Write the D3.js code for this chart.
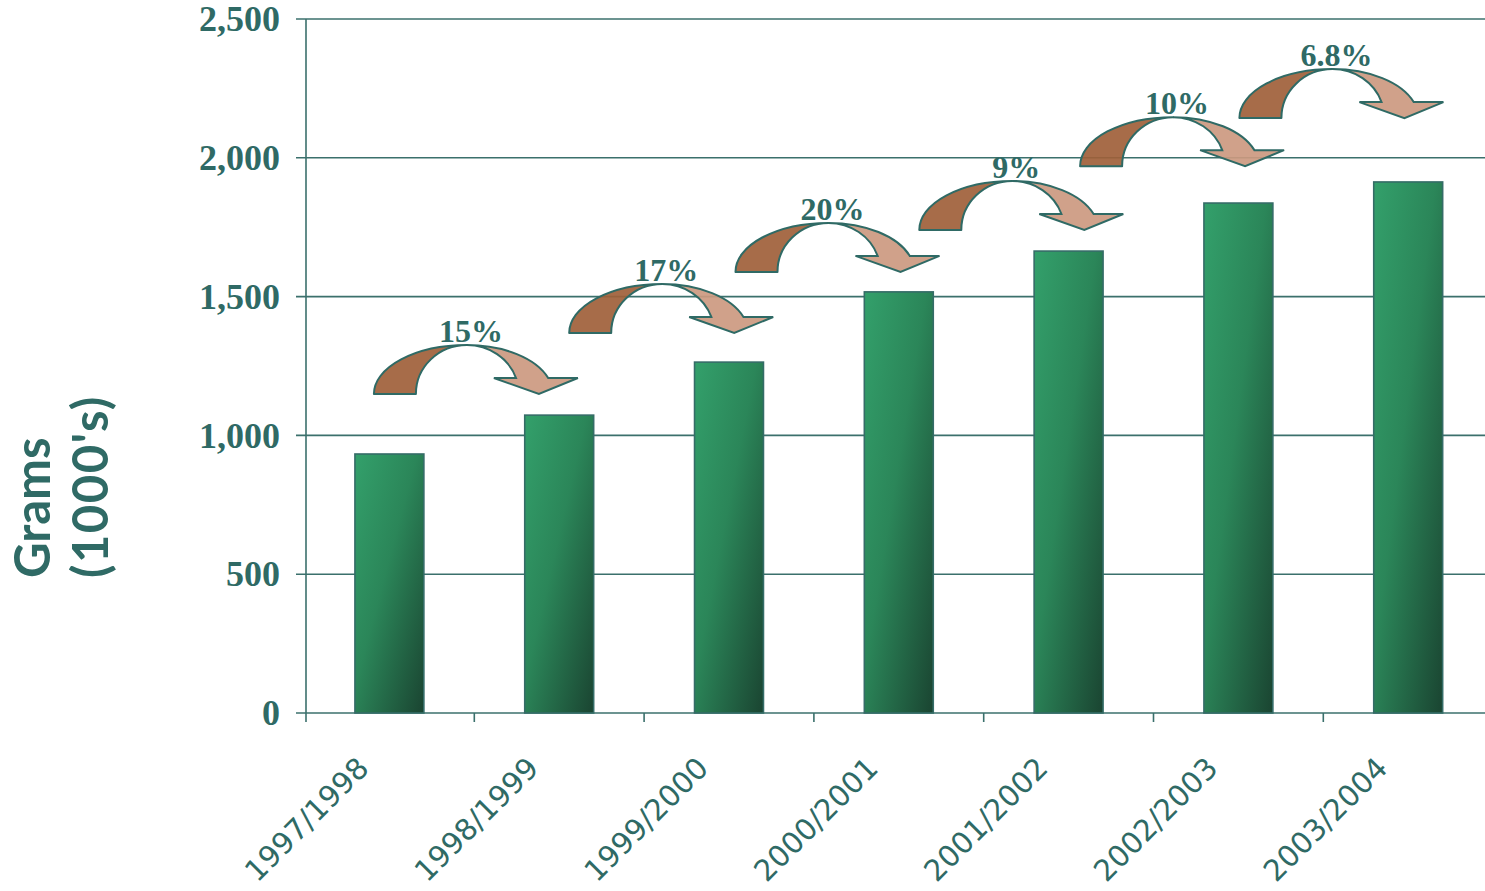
<!DOCTYPE html>
<html>
<head>
<meta charset="utf-8">
<script src="https://cdn.jsdelivr.net/npm/d3@7"></script>
<style>
  html, body { margin: 0; padding: 0; background: #ffffff; }
  svg { display: block; }
</style>
</head>
<body>
<svg id="chart" width="1485" height="891"></svg>
<script>
// Seasons and yearly totals (grams, thousands)
const seasons = ["1997/1998", "1998/1999", "1999/2000", "2000/2001", "2001/2002", "2002/2003", "2003/2004"];
const grams = [933, 1073, 1264, 1517, 1664, 1837, 1913];
const yTicks = [0, 500, 1000, 1500, 2000, 2500];

// Year-over-year growth callouts, one per pair of adjacent seasons
const growthLabels = ["15%", "17%", "20%", "9%", "10%", "6.8%"];
// Level (in grams) where each callout arrow rests
const arrowLevel = [1149, 1369, 1589, 1740, 1970, 2143];
// Horizontal nudge of each arrow from the centre of its starting bar
const arrowShift = [-15.5, 10, 6.5, 20.5, 11.5, 1];

const ink = "#2f6a65";
const lineCol = "#3b706c";
const serif = "'Liberation Serif', 'Times New Roman', serif";

const svg = d3.select("#chart");
const plot = { left: 306, top: 19, bottom: 713, right: 1485 };

const x = d3.scaleBand()
  .domain(seasons)
  .range([304.5, 304.5 + 7 * 169.8])
  .paddingInner(0.594)
  .paddingOuter(0.297);

const y = d3.scaleLinear()
  .domain([0, 2500])
  .range([plot.bottom, plot.top]);

const defs = svg.append("defs");
const barGrad = defs.append("linearGradient")
  .attr("id", "barGrad")
  .attr("x1", 0).attr("y1", 0).attr("x2", 1).attr("y2", 1);
barGrad.append("stop").attr("offset", "0%").attr("stop-color", "#33a06b");
barGrad.append("stop").attr("offset", "45%").attr("stop-color", "#2b8659");
barGrad.append("stop").attr("offset", "100%").attr("stop-color", "#1a4431");

// Horizontal gridlines with short ticks left of the axis
svg.append("g")
  .selectAll("line")
  .data(yTicks)
  .join("line")
  .attr("x1", plot.left - 10)
  .attr("x2", plot.right)
  .attr("y1", d => y(d))
  .attr("y2", d => y(d))
  .attr("stroke", lineCol)
  .attr("stroke-width", 1.6);

// Y axis line
svg.append("line")
  .attr("x1", plot.left).attr("x2", plot.left)
  .attr("y1", plot.top).attr("y2", plot.bottom + 9)
  .attr("stroke", lineCol)
  .attr("stroke-width", 1.6);

// Category separators below the baseline
svg.append("g")
  .selectAll("line")
  .data(seasons.slice(1))
  .join("line")
  .attr("x1", d => x(d) - x.step() * x.paddingInner() / 2)
  .attr("x2", d => x(d) - x.step() * x.paddingInner() / 2)
  .attr("y1", plot.bottom)
  .attr("y2", plot.bottom + 9)
  .attr("stroke", lineCol)
  .attr("stroke-width", 1.6);

// Y tick labels
svg.append("g")
  .selectAll("text")
  .data(yTicks)
  .join("text")
  .attr("x", 280)
  .attr("y", d => y(d))
  .attr("dy", "0.34em")
  .attr("text-anchor", "end")
  .attr("font-family", serif)
  .attr("font-weight", "bold")
  .attr("font-size", 36)
  .attr("fill", ink)
  .text(d => d3.format(",")(d));

// Bars
svg.append("g")
  .selectAll("rect")
  .data(grams)
  .join("rect")
  .attr("x", (d, i) => x(seasons[i]))
  .attr("y", d => y(d))
  .attr("width", x.bandwidth())
  .attr("height", d => y(0) - y(d))
  .attr("fill", "url(#barGrad)")
  .attr("stroke", "#356c67")
  .attr("stroke-width", 1.6);

// X category labels, rotated
svg.append("g")
  .selectAll("text")
  .data(seasons)
  .join("text")
  .attr("transform", d => `translate(${x(d) + x.bandwidth() / 2 - 19},${plot.bottom + 57}) rotate(-45)`)
  .attr("text-anchor", "end")
  .attr("font-family", "'DejaVu Sans', Verdana, sans-serif")
  .attr("font-size", 29.5)
  .attr("fill", ink)
  .text(d => d);

// Curved growth arrows: a darker rising back and a lighter descending head
const AW = 204, AH = 49;          // arrow box
const topX = 93;                   // where the two halves meet
const backT = 42;                  // thickness of the rising leg at its foot
const headY = 33;                  // height of the arrowhead base (from top)
const frontOuterRx = 86, frontInnerRx = 52;
const k = Math.sqrt(1 - Math.pow((AH - headY) / AH, 2));
const fo = topX + frontOuterRx * k;
const fi = topX + frontInnerRx * k;

const backPath = `M0,${AH} A${topX},${AH} 0 0 1 ${topX},0 A${topX - backT},${AH} 0 0 0 ${backT},${AH} Z`;
const frontPath = `M${topX},0 A${frontOuterRx},${AH} 0 0 1 ${fo},${headY} L${AW},${headY} L165,${AH} L120,${headY} L${fi},${headY} A${frontInnerRx},${AH} 0 0 0 ${topX},0 Z`;

const arrows = svg.append("g")
  .selectAll("g")
  .data(growthLabels)
  .join("g")
  .attr("transform", (d, i) => {
    const bx = x(seasons[i]) + x.bandwidth() / 2 + arrowShift[i];
    const by = y(arrowLevel[i]) - AH;
    return `translate(${bx},${by})`;
  });

arrows.append("path")
  .attr("d", backPath)
  .attr("fill", "#a05f3a")
  .attr("fill-opacity", 0.92)
  .attr("stroke", ink)
  .attr("stroke-width", 2)
  .attr("stroke-linejoin", "round");

arrows.append("path")
  .attr("d", frontPath)
  .attr("fill", "#cc9980")
  .attr("fill-opacity", 0.92)
  .attr("stroke", ink)
  .attr("stroke-width", 2)
  .attr("stroke-linejoin", "miter");

arrows.append("text")
  .attr("x", 97)
  .attr("y", -3)
  .attr("text-anchor", "middle")
  .attr("font-family", serif)
  .attr("font-weight", "bold")
  .attr("font-size", 32)
  .attr("fill", ink)
  .text(d => d);

// Y axis title, two lines
const titleFont = "'Comic Sans MS', Lato, 'DejaVu Sans', sans-serif";
svg.append("text")
  .attr("transform", "translate(50,578) rotate(-90)")
  .attr("text-anchor", "start")
  .attr("font-family", titleFont)
  .attr("font-weight", "bold")
  .attr("font-size", 49)
  .attr("fill", ink)
  .text("Grams");
svg.append("text")
  .attr("transform", "translate(108,578) rotate(-90)")
  .attr("text-anchor", "start")
  .attr("font-family", titleFont)
  .attr("font-weight", "bold")
  .attr("font-size", 49)
  .attr("letter-spacing", 1.5)
  .attr("fill", ink)
  .text("(1000's)");
</script>
</body>
</html>
